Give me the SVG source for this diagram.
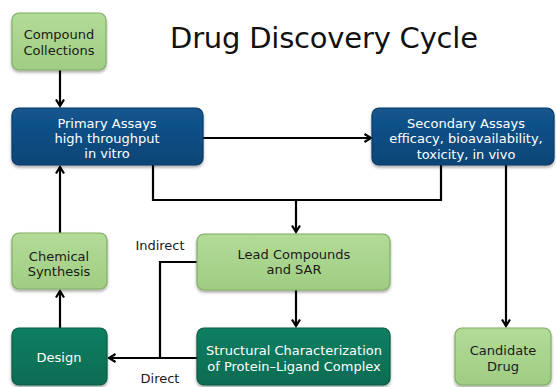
<svg xmlns="http://www.w3.org/2000/svg" width="556" height="387" viewBox="0 0 556 387">
<defs>
<linearGradient id="gGreen" x1="0" y1="0" x2="0" y2="1">
<stop offset="0" stop-color="#b3db98"/><stop offset="1" stop-color="#9fcd82"/>
</linearGradient>
<linearGradient id="gBlue" x1="0" y1="0" x2="0" y2="1">
<stop offset="0" stop-color="#13568f"/><stop offset="1" stop-color="#0b4576"/>
</linearGradient>
<linearGradient id="gTeal" x1="0" y1="0" x2="0" y2="1">
<stop offset="0" stop-color="#0f7f62"/><stop offset="1" stop-color="#0a6c52"/>
</linearGradient>
<filter id="sh" x="-10%" y="-10%" width="130%" height="140%">
<feDropShadow dx="0" dy="2" stdDeviation="1.5" flood-color="#000" flood-opacity="0.35"/>
</filter>
<marker id="arr" viewBox="0 0 10 10" refX="8" refY="5" markerWidth="10" markerHeight="10" markerUnits="userSpaceOnUse" orient="auto">
<path d="M1.5,1 L8,5 L1.5,9" fill="none" stroke="#000" stroke-width="2.2" stroke-linejoin="miter"/>
</marker>
<style>
.green{fill:url(#gGreen);stroke:#7fae64;stroke-width:1.2;filter:url(#sh)}
.blue{fill:url(#gBlue);stroke:#083a66;stroke-width:1.2;filter:url(#sh)}
.teal{fill:url(#gTeal);stroke:#075a44;stroke-width:1.2;filter:url(#sh)}
text{font-family:"DejaVu Sans","Liberation Sans",sans-serif;font-size:13px;text-anchor:middle}
.dk{fill:#1a1a1a}
.wt{fill:#ffffff}
.title{font-size:29px;fill:#111;text-anchor:start}
.lbl{fill:#1a1a1a;font-size:13px}
.con{fill:none;stroke:#000;stroke-width:2.2}
</style>
</defs>
<text class="title" x="170" y="48" textLength="308">Drug Discovery Cycle</text>
<g id="connectors">
<path class="con" d="M60,70 V106" marker-end="url(#arr)"/>
<path class="con" d="M203,138 H371" marker-end="url(#arr)"/>
<path class="con" d="M153,165 V200 H441 V165"/>
<path class="con" d="M296,200 V232" marker-end="url(#arr)"/>
<path class="con" d="M506,165 V326" marker-end="url(#arr)"/>
<path class="con" d="M296,290 V326" marker-end="url(#arr)"/>
<path class="con" d="M60,233 V167" marker-end="url(#arr)"/>
<path class="con" d="M60,328 V291" marker-end="url(#arr)"/>
<path class="con" d="M197,262 H160 V358"/>
<path class="con" d="M197,358 H109" marker-end="url(#arr)"/>
<text class="lbl" x="160" y="250">Indirect</text>
<text class="lbl" x="160" y="383">Direct</text>
</g>
<g id="compound">
<rect class="green" x="12" y="13" width="94" height="57" rx="7"/>
<text class="dk" x="59" y="39">Compound</text>
<text class="dk" x="59" y="55">Collections</text>
</g>
<g id="primary">
<rect class="blue" x="12" y="108" width="191" height="57" rx="7"/>
<text class="wt" x="107" y="128">Primary Assays</text>
<text class="wt" x="107" y="143">high throughput</text>
<text class="wt" x="107" y="158">in vitro</text>
</g>
<g id="secondary">
<rect class="blue" x="372" y="108" width="182" height="57" rx="7"/>
<text class="wt" x="466" y="128">Secondary Assays</text>
<text class="wt" x="466" y="143">efficacy, bioavailability,</text>
<text class="wt" x="466" y="159">toxicity, in vivo</text>
</g>
<g id="chemical">
<rect class="green" x="12" y="233" width="95" height="56" rx="7"/>
<text class="dk" x="59" y="261">Chemical</text>
<text class="dk" x="59" y="276">Synthesis</text>
</g>
<g id="lead">
<rect class="green" x="197" y="234" width="193" height="56" rx="7"/>
<text class="dk" x="294" y="259">Lead Compounds</text>
<text class="dk" x="294" y="274">and SAR</text>
</g>
<g id="design">
<rect class="teal" x="12" y="328" width="95" height="57" rx="7"/>
<text class="wt" x="59" y="362">Design</text>
</g>
<g id="structural">
<rect class="teal" x="197" y="328" width="193" height="57" rx="7"/>
<text class="wt" x="294" y="355">Structural Characterization</text>
<text class="wt" x="294" y="371">of Protein–Ligand Complex</text>
</g>
<g id="candidate">
<rect class="green" x="455" y="328" width="96" height="57" rx="7"/>
<text class="dk" x="503" y="355">Candidate</text>
<text class="dk" x="503" y="371">Drug</text>
</g>
</svg>
